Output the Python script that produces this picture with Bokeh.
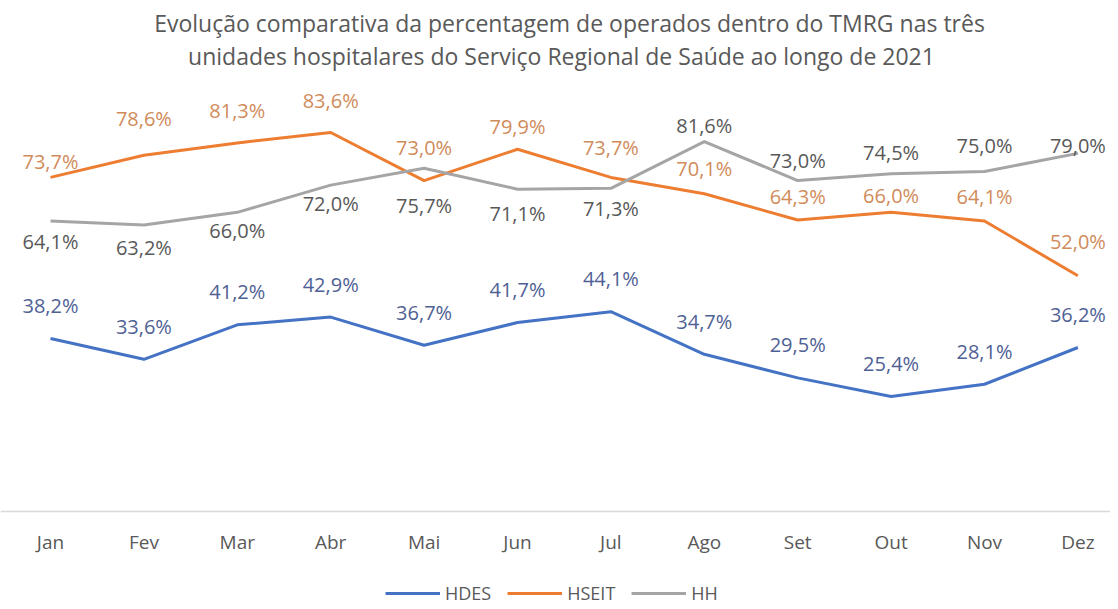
from bokeh.plotting import figure
from bokeh.models import (ColumnDataSource, Range1d, FixedTicker, LabelSet, Label,
                          Legend, LegendItem)
from bokeh.core.properties import value
from bokeh.embed import file_html
from bokeh.resources import INLINE

months = ["Jan", "Fev", "Mar", "Abr", "Mai", "Jun", "Jul", "Ago", "Set", "Out", "Nov", "Dez"]
hdes = [38.2, 33.6, 41.2, 42.9, 36.7, 41.7, 44.1, 34.7, 29.5, 25.4, 28.1, 36.2]
hseit = [73.7, 78.6, 81.3, 83.6, 73.0, 79.9, 73.7, 70.1, 64.3, 66.0, 64.1, 52.0]
hh = [64.1, 63.2, 66.0, 72.0, 75.7, 71.1, 71.3, 81.6, 73.0, 74.5, 75.0, 79.0]
title_lines = ["Evolução comparativa da percentagem de operados dentro do TMRG  nas três",
               "unidades hospitalares do Serviço Regional de Saúde ao longo de 2021"]

# label placement styles (screen px, positive = up)
hdes_dy = [33] * 12
hseit_dy = [16, 37, 32, 32, 33, 23, 30, 25, 24, 17, 24, 34]
hh_dy = [-21, -22, -18, -18, -37, -24, -20, 16, 20, 21, 26, 8]

C_HDES = "#4472C4"
C_HSEIT = "#ED7D31"
C_HH = "#A5A5A5"
FONT = "Open Sans"

x = list(range(len(months)))

p = figure(width=1110, height=605, output_backend="svg", toolbar_location=None,
           x_range=Range1d(-0.5353, 11.349), y_range=Range1d(-20.68, 112.7),
           y_axis_location=None, min_border_left=0, min_border_right=0,
           min_border_top=0, min_border_bottom=0)
p.outline_line_color = None
p.xgrid.visible = False
p.ygrid.visible = False
p.background_fill_color = "white"
p.border_fill_color = "white"

ax = p.xaxis[0]
ax.fixed_location = 0
ax.ticker = FixedTicker(ticks=x)
ax.major_label_overrides = {i: m for i, m in enumerate(months)}
ax.axis_line_color = "#d9d9d9"
ax.axis_line_width = 1.5
ax.major_tick_line_color = None
ax.minor_tick_line_color = None
ax.major_label_standoff = 11
ax.major_label_text_font = FONT
ax.major_label_text_font_size = "19px"
ax.major_label_text_color = "#595959"

series = [
    ("HDES", hdes, C_HDES, "#4f6194", hdes_dy),
    ("HSEIT", hseit, C_HSEIT, "#d08b5b", hseit_dy),
    ("HH", hh, C_HH, "#595959", hh_dy),
]

items = []
for name, vals, col, lcol, dy in series:
    src = ColumnDataSource(dict(x=x, y=vals, dy=dy,
                                txt=[("%.1f%%" % v).replace(".", ",") for v in vals]))
    r = p.line("x", "y", source=src, line_color=col, line_width=3, line_join="round")
    items.append(LegendItem(label=name, renderers=[r]))
    p.add_layout(LabelSet(x="x", y="y", text="txt", source=src, y_offset="dy",
                          text_align="center", text_baseline="middle",
                          text_font=value(FONT), text_font_size=value("20px"),
                          text_color=lcol))

legend = Legend(items=items, orientation="horizontal", location=(385, 0),
                glyph_width=55, glyph_height=20, label_standoff=5, spacing=16,
                padding=0, margin=0, border_line_color=None,
                background_fill_alpha=0, label_text_font=FONT,
                label_text_font_size="18px", label_text_color="#595959")
p.add_layout(legend, "center")

p.add_layout(Label(x=572, y=583, x_units="screen", y_units="screen", text=title_lines[0],
                   text_align="center", text_baseline="middle", text_font=FONT,
                   text_font_size="23px", text_color="#595959"))
p.add_layout(Label(x=561, y=550, x_units="screen", y_units="screen", text=title_lines[1],
                   text_align="center", text_baseline="middle", text_font=FONT,
                   text_font_size="23px", text_color="#595959"))

open("out.html", "w").write(file_html(p, INLINE))
